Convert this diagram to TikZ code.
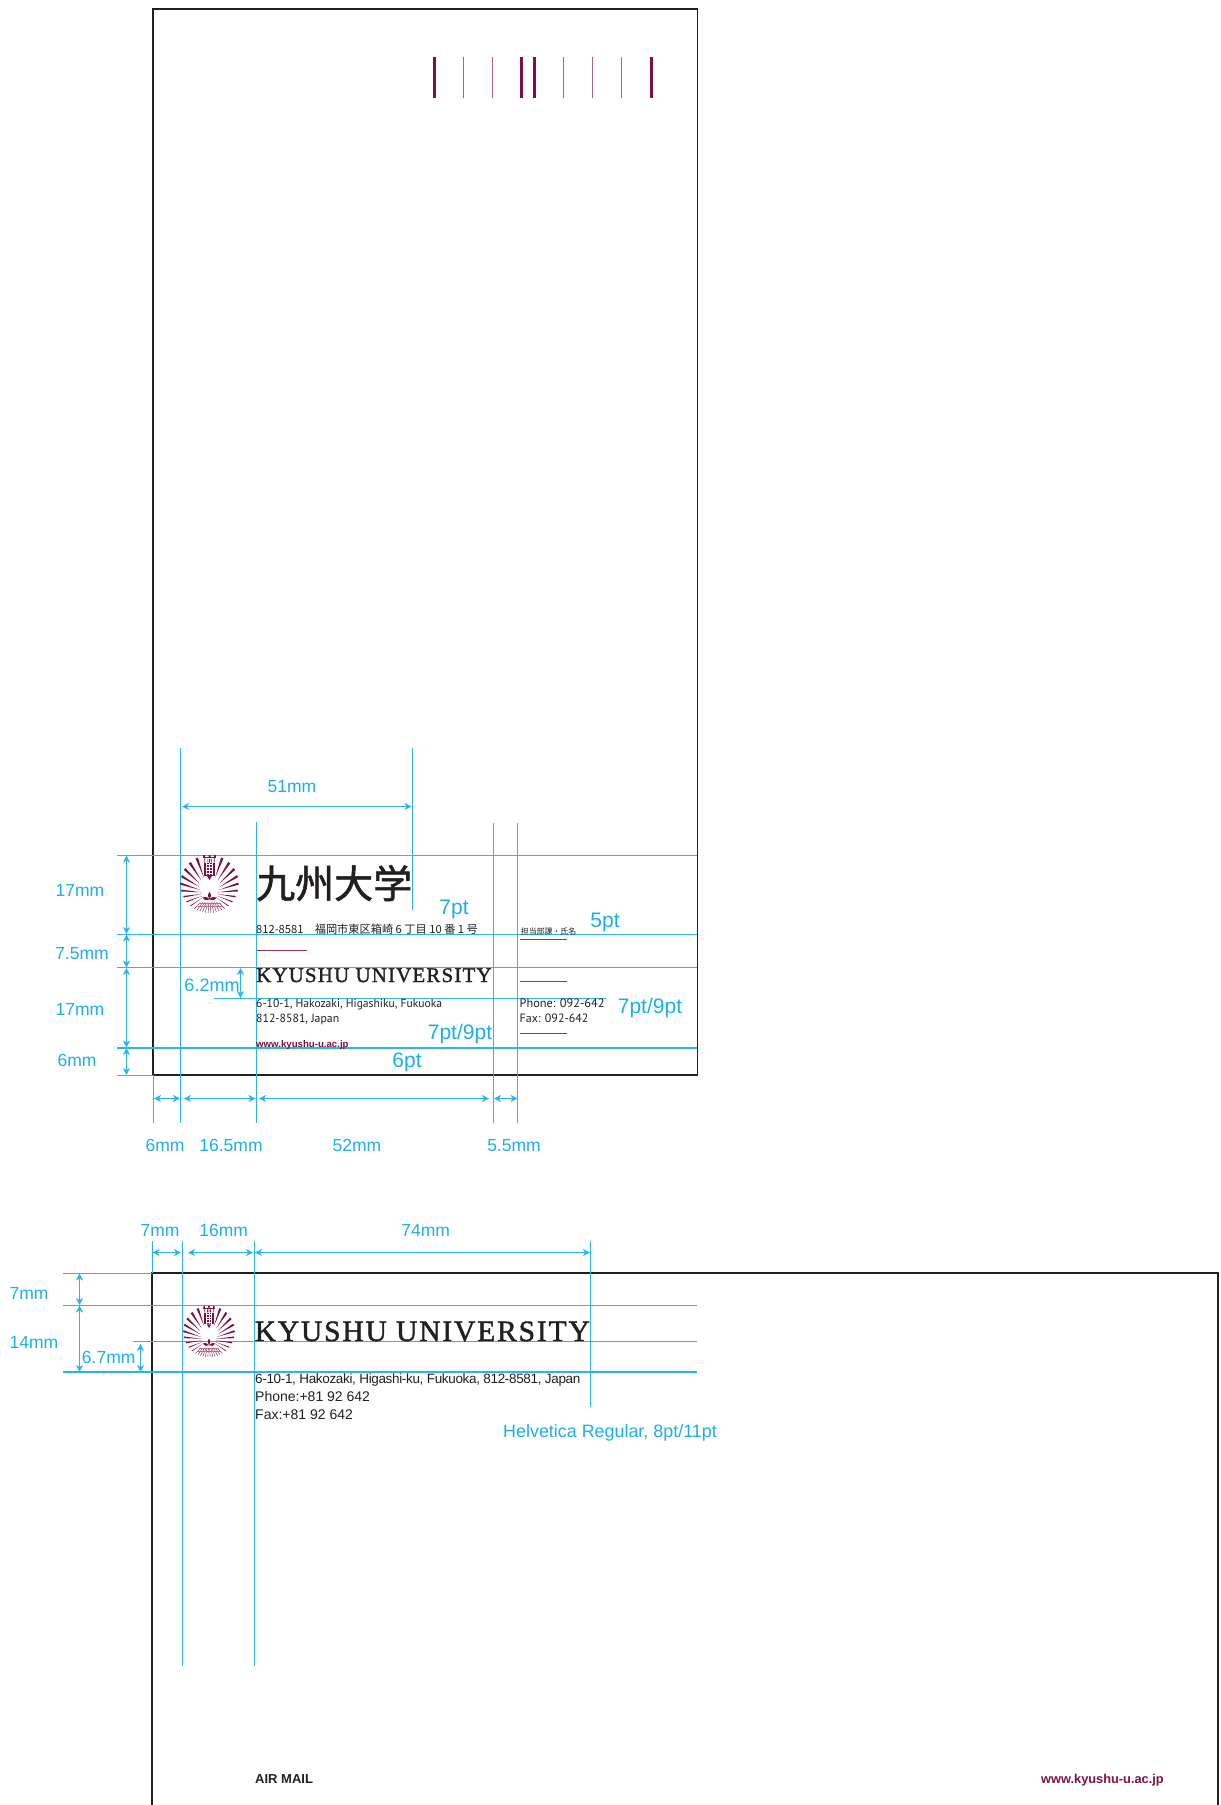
\documentclass[tikz,border=0pt]{standalone}
\usepackage{fontspec}
\setmainfont{Liberation Sans}
\newfontfamily\cjk{Noto Sans CJK JP}
\newfontfamily\serifcaps{Liberation Serif}
\newfontfamily\myr{PT Sans}
\usetikzlibrary{arrows.meta}
\definecolor{guide}{HTML}{29B5EE}
\definecolor{dimtext}{HTML}{1CAEEC}
\definecolor{maroon}{HTML}{7E0F45}
\definecolor{ink}{HTML}{231F20}
\tikzset{
 guideline/.style={draw=guide,line width=1.2pt},
 dimline/.style={draw=guide,line width=1.1pt,{Stealth[length=7pt,width=7pt,inset=2pt]}-{Stealth[length=7pt,width=7pt,inset=2pt]}},
 envelope/.style={draw=ink,line width=1.8pt},
 rulemark/.style={draw=maroon!85,line width=1.2pt},
 barthick/.style={draw=maroon,line width=2.6pt},
 barthin/.style={draw=maroon!65,line width=1.8pt},
 dimlabel/.style={anchor=base,inner sep=0,text=dimtext,font=\fontsize{17.5}{20}\selectfont},
 ptlabel/.style={anchor=base,inner sep=0,text=dimtext,font=\fontsize{21}{24}\selectfont},
 inktext/.style={anchor=base west,inner sep=0,text=ink},
}
\newcommand{\kulogo}[3]{%
\begin{scope}[shift={(#1,#2)},scale=#3]
 \foreach \s in {-1,1}{
  \foreach \a/\w in {20/2.6,33/2.6,46/2.5,59/2.4,72/2.2,85/1.9,98/1.6,111/1.2,124/.9}{
   \pgfmathsetmacro\t{9*cos(\a)+sqrt(841-81*sin(\a)*sin(\a))}
   \pgfmathsetmacro\ti{max(\t-21,8)}
   \pgfmathsetmacro\ux{\s*sin(\a)}
   \pgfmathsetmacro\uy{-cos(\a)}
   \fill[maroon] ({\ux*\t+\uy*\w/2},{9+\uy*\t-\ux*\w/2}) -- ({\ux*\t-\uy*\w/2},{9+\uy*\t+\ux*\w/2}) -- ({\ux*\ti},{9+\uy*\ti}) -- cycle;
  }
  \foreach \a in {136,144,152,160,168,176}{
   \pgfmathsetmacro\t{9*cos(\a)+sqrt(841-81*sin(\a)*sin(\a))}
   \pgfmathsetmacro\ti{9.5/(-cos(\a))}
   \pgfmathsetmacro\ux{\s*sin(\a)}
   \pgfmathsetmacro\uy{-cos(\a)}
   \draw[maroon,line width=.4pt] ({\ux*\ti},{9+\uy*\ti}) -- ({\ux*\t},{9+\uy*\t});
  }
  \fill[maroon] (0,15.5) .. controls ({\s*2},12.5) and ({\s*5},12.5) .. ({\s*7},13.5) .. controls ({\s*5},16.5) and ({\s*2},17) .. (0,15.5) -- cycle;
 }
 \fill[maroon] (0,8) .. controls (-2.6,11) and (-1.2,13.5) .. (0,15.5) .. controls (1.2,13.5) and (2.6,11) .. (0,8) -- cycle;
 \draw[maroon!60,line width=.3pt] (-11,19) -- (11,19) (-12,22) -- (12,22);
 % castle gate
 \fill[maroon] (-6.3,-29) rectangle (-4.7,-26.2) (4.7,-29) rectangle (6.3,-26.2) (-1,-29) rectangle (1,-27);
 \fill[maroon] (-6.3,-26.8) rectangle (6.3,-25.8);
 \fill[maroon] (-5.2,-25.8) rectangle (-4.4,-21.5) (4.4,-25.8) rectangle (5.2,-21.5) (-2,-25) rectangle (-1.3,-21.5) (1.3,-25) rectangle (2,-21.5) (-.35,-25) rectangle (.35,-21.5);
 \fill[maroon] (-5.4,-21.3) rectangle (5.4,-8);
 \fill[maroon] (-2.4,-8) -- (2.4,-8) -- (0,-4) -- cycle;
 \draw[white,line width=.5pt] (-3.6,-19.4) -- (3.6,-19.4) (-3.6,-16.6) -- (3.6,-16.6) (-3.6,-13.8) -- (3.6,-13.8) (-3.6,-11) -- (3.6,-11) (0,-21) -- (0,-9) (-2.8,-21) -- (-2.8,-9) (2.8,-21) -- (2.8,-9);
\end{scope}}
\newcommand{\dimlbl}[4]{\node[dimlabel] (#1) at (#2,#3) {#4};}
\newcommand{\ptlbl}[4]{\node[ptlabel] (#1) at (#2,#3) {#4};}
\begin{document}
\begin{tikzpicture}[x=1pt,y=-1pt]
\useasboundingbox (0,0) rectangle (1221,1805);
% ---------- envelope 1
\draw[envelope] (153,9) rectangle (697.5,1075);
\foreach \x in {434.5,521.5,534.5,651.5}{\draw[barthick] (\x,57) -- (\x,98);}
\foreach \x in {463.5,492.5,563.5,592.5,621.5}{\draw[barthin] (\x,57) -- (\x,98);}
% guides
\draw[guideline] (180.5,748) -- (180.5,1123);
\draw[guideline] (412.5,748) -- (412.5,910);
\draw[guideline] (256.5,822) -- (256.5,1123);
\draw[guideline] (493.5,823) -- (493.5,1123);
\draw[guideline] (517.5,823) -- (517.5,1123);
\draw[guideline] (153.5,1075) -- (153.5,1123);
\draw[guideline] (117,855.5) -- (697,855.5);
\draw[guideline] (117,934.5) -- (697,934.5);
\draw[guideline] (117,967.5) -- (697,967.5);
\draw[guideline,line width=2pt] (117,1048) -- (697,1048);
\draw[guideline] (117,1075.5) -- (153,1075.5);
\draw[guideline] (214,998.5) -- (606,998.5);
% dims
\draw[dimline] (126.5,855.5) -- (126.5,934);
\draw[dimline] (126.5,934.5) -- (126.5,967.5);
\draw[dimline] (126.5,968) -- (126.5,1047.5);
\draw[dimline] (126.5,1048) -- (126.5,1075);
\draw[dimline] (240.5,968) -- (240.5,998);
\draw[dimline] (182,806.5) -- (411.5,806.5);
\draw[dimline] (154,1098.5) -- (180,1098.5);
\draw[dimline] (184,1098.5) -- (255.5,1098.5);
\draw[dimline] (259,1098.5) -- (489,1098.5);
\draw[dimline] (494,1098.5) -- (517.5,1098.5);
\dimlbl{a1}{292}{792}{51mm}
\dimlbl{a2}{80}{896}{17mm}
\dimlbl{a3}{82}{959}{7.5mm}
\dimlbl{a4}{80}{1015}{17mm}
\dimlbl{a5}{77}{1066}{6mm}
\node[dimlabel,font=\fontsize{18}{20}\selectfont] (a6) at (212,991) {6.2mm};
\ptlbl{a7}{407}{1067}{6pt}
\dimlbl{a8}{165}{1151}{6mm}
\dimlbl{a9}{231}{1151}{16.5mm}
\dimlbl{a10}{357}{1151}{52mm}
\dimlbl{a11}{514}{1151}{5.5mm}
\ptlbl{a12}{454}{914}{7pt}
\ptlbl{a13}{605}{927}{5pt}
\ptlbl{a14}{650}{1013}{7pt/9pt}
\ptlbl{a15}{460}{1039}{7pt/9pt}
% content
\kulogo{209.5}{884}{1}
\node[inktext] (b1) at (256,898) {\cjk\fontsize{39}{39}\selectfont\addfontfeature{FakeBold=1.5}九州大学};
\node[inktext] (b2) at (256,933) {\cjk\fontsize{11.2}{12}\selectfont 812-8581　福岡市東区箱崎 6 丁目 10 番 1 号};
\node[inktext] (b3) at (256,982) {\serifcaps\fontsize{20.8}{22}\selectfont\addfontfeature{LetterSpace=6,FakeBold=1.5}KYUSHU UNIVERSITY};
\node[inktext] (b4) at (256,1007) {\myr\fontsize{11.6}{14}\selectfont 6-10-1, Hakozaki, Higashiku, Fukuoka};
\node[inktext] (b5) at (256,1022) {\myr\fontsize{11.8}{14}\selectfont 812-8581, Japan};
\node[inktext,text=maroon] (b6) at (256,1047) {\bfseries\fontsize{9.65}{12}\selectfont www.kyushu-u.ac.jp};
\node[inktext] (b7) at (520.7,934) {\cjk\fontsize{7.9}{9}\selectfont 担当部課・氏名};
\node[inktext] (b8) at (519.5,1007) {\myr\fontsize{12.3}{14}\selectfont Phone: 092-642};
\node[inktext] (b9) at (519.5,1022) {\myr\fontsize{12}{14}\selectfont Fax: 092-642};
\draw[rulemark] (257,950.5) -- (307,950.5);
\draw[rulemark] (520,939.5) -- (567,939.5);
\draw[rulemark] (520,981.5) -- (567,981.5);
\draw[rulemark] (520,1033.5) -- (567,1033.5);
% ---------- envelope 2
\draw[envelope] (152,1805) -- (152,1273) -- (1218,1273) -- (1218,1805);
\draw[guideline] (182.5,1241) -- (182.5,1666);
\draw[guideline] (254.5,1241) -- (254.5,1666);
\draw[guideline] (590.5,1241) -- (590.5,1406.7);
\draw[guideline] (152.5,1241) -- (152.5,1273);
\draw[guideline] (63,1273.5) -- (152,1273.5);
\draw[guideline] (63,1305.5) -- (697,1305.5);
\draw[guideline] (133,1341.5) -- (697,1341.5);
\draw[guideline,line width=1.6pt] (63,1372) -- (697,1372);
\draw[dimline] (79.5,1273.5) -- (79.5,1305);
\draw[dimline] (79.5,1305.5) -- (79.5,1372);
\draw[dimline] (140.5,1344) -- (140.5,1372);
\draw[dimline] (152.5,1252.5) -- (181,1252.5);
\draw[dimline] (188,1252.5) -- (253,1252.5);
\draw[dimline] (255,1252.5) -- (590,1252.5);
\dimlbl{c1}{160}{1236}{7mm}
\dimlbl{c2}{223.7}{1236}{16mm}
\dimlbl{c3}{425.7}{1236}{74mm}
\dimlbl{c4}{29}{1299}{7mm}
\dimlbl{c5}{34}{1348}{14mm}
\dimlbl{c6}{108.7}{1363}{6.7mm}
\node[dimlabel,font=\fontsize{17.9}{20}\selectfont] (c7) at (610,1437) {Helvetica Regular, 8pt/11pt};
\kulogo{209}{1331.5}{.885}
\node[inktext] (d1) at (254.5,1341) {\serifcaps\fontsize{29.5}{31}\selectfont\addfontfeature{LetterSpace=6.3,FakeBold=1.5}KYUSHU UNIVERSITY};
\node[inktext] (d2) at (255,1383) {\fontsize{13.5}{16}\selectfont\addfontfeature{LetterSpace=-2.5}6-10-1, Hakozaki, Higashi-ku, Fukuoka, 812-8581, Japan};
\node[inktext] (d3) at (255,1401) {\fontsize{14}{16}\selectfont Phone:+81 92 642};
\node[inktext] (d4) at (255,1419) {\fontsize{14}{16}\selectfont Fax:+81 92 642};
\node[inktext] (d5) at (255,1783) {\bfseries\fontsize{13}{16}\selectfont AIR MAIL};
\node[inktext,text=maroon] (d6) at (1041,1783) {\bfseries\fontsize{12.8}{16}\selectfont www.kyushu-u.ac.jp};
\end{tikzpicture}
\end{document}
